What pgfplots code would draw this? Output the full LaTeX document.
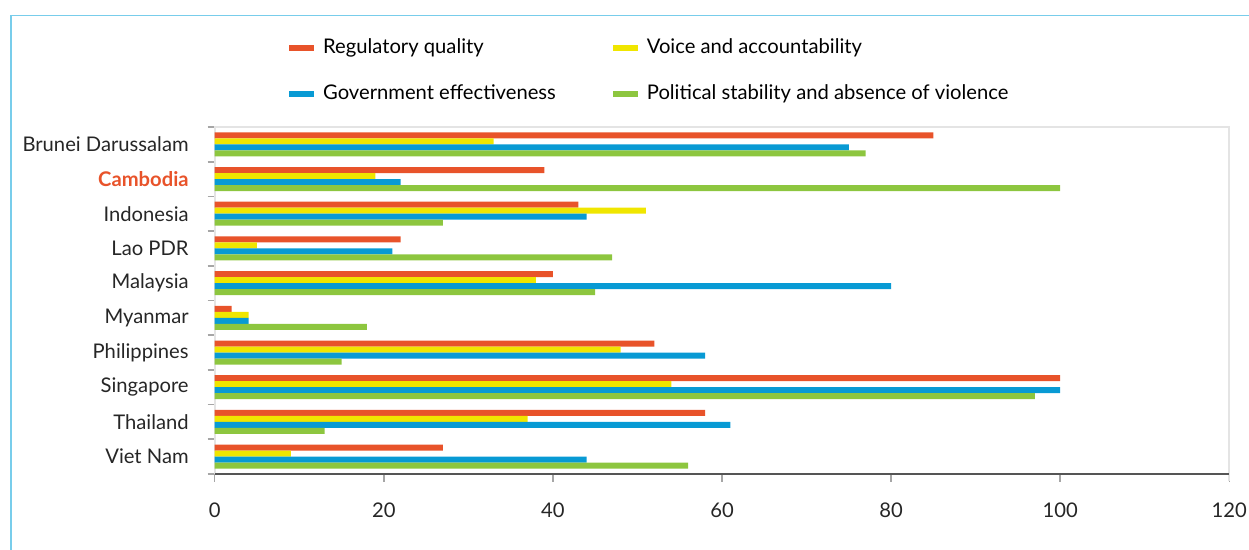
\documentclass[border=0pt]{standalone}
\usepackage{pgfplots}
\pgfplotsset{compat=1.18}
\usepackage{fontspec}
\setmainfont{Lato}

\definecolor{cred}{RGB}{232,83,42}
\definecolor{cyellow}{RGB}{240,230,0}
\definecolor{cblue}{RGB}{8,154,212}
\definecolor{cgreen}{RGB}{141,198,63}
\definecolor{frameblue}{RGB}{120,205,235}
\definecolor{lightgrid}{RGB}{228,228,228}
\definecolor{axisgray}{RGB}{85,85,85}

\begin{document}
\begin{tikzpicture}
\useasboundingbox (0,0) rectangle (624.5pt,275pt);
\draw[frameblue, line width=0.8pt] (5.5pt,-5pt) -- (5.5pt,267.2pt) -- (630pt,267.2pt);

\begin{axis}[
    at={(107.35pt,38pt)}, anchor=south west,
    scale only axis,
    width=507.3pt, height=173.5pt,
    xbar, bar width=3pt,
    xmin=0, xmax=120,
    ymin=-0.5, ymax=9.5,
    xtick={0,20,40,60,80,100,120},
    ytick={0,...,9},
    yticklabels={Viet Nam,Thailand,Singapore,Philippines,Myanmar,Malaysia,Lao PDR,Indonesia,{\color{cred}\bfseries Cambodia},Brunei Darussalam},
    minor ytick={-0.5,0.5,...,9.5},
    y tick style={draw=none},
    minor y tick style={draw=gray!70, line width=0.8pt},
    minor tick length=3.5pt,
    x tick style={draw=gray!70, line width=0.8pt},
    major tick length=4pt,
    tick align=outside,
    tick pos=left,
    axis line style={draw=none},
    every tick label/.append style={font=\fontsize{10.1}{12}\selectfont, text=black!85},
    yticklabel style={xshift=-5.5pt},
    xticklabel style={yshift=-7pt},
    /pgf/number format/assume math mode=true,
    legend columns=2,
    legend cell align=left,
    legend style={at={(0.073,1.0)}, anchor=south west, yshift=10pt, draw=none, fill=none,
        inner sep=0pt, row sep=10pt,
        font=\fontsize{10.1}{12}\selectfont,
        /tikz/every even column/.append style={column sep=26.5pt}},
    legend image code/.code={\fill (0pt,-1.5pt) rectangle (12.5pt,1.5pt); \path (15pt,0pt);},
    clip=false,
]
% frame lines of the plot area
\draw[lightgrid, line width=1pt] (rel axis cs:0,0) -- (rel axis cs:0,1) -- (rel axis cs:1,1) -- (rel axis cs:1,-0.02);
\draw[axisgray, line width=1pt] (rel axis cs:0,0) -- (rel axis cs:1,0);

% rows from bottom: Viet Nam, Thailand, Singapore, Philippines, Myanmar, Malaysia, Lao PDR, Indonesia, Cambodia, Brunei
\addplot[fill=cred, draw=none, bar shift=4.5pt] coordinates {
 (27,0) (58,1) (100,2) (52,3) (2,4) (40,5) (22,6) (43,7) (39,8) (85,9)};
\addplot[fill=cyellow, draw=none, bar shift=1.5pt] coordinates {
 (9,0) (37,1) (54,2) (48,3) (4,4) (38,5) (5,6) (51,7) (19,8) (33,9)};
\addplot[fill=cblue, draw=none, bar shift=-1.5pt] coordinates {
 (44,0) (61,1) (100,2) (58,3) (4,4) (80,5) (21,6) (44,7) (22,8) (75,9)};
\addplot[fill=cgreen, draw=none, bar shift=-4.5pt] coordinates {
 (56,0) (13,1) (97,2) (15,3) (18,4) (45,5) (47,6) (27,7) (100,8) (77,9)};
\legend{Regulatory quality, Voice and accountability, Government effectiveness, Political stability and absence of violence}
\end{axis}
\end{tikzpicture}
\end{document}
